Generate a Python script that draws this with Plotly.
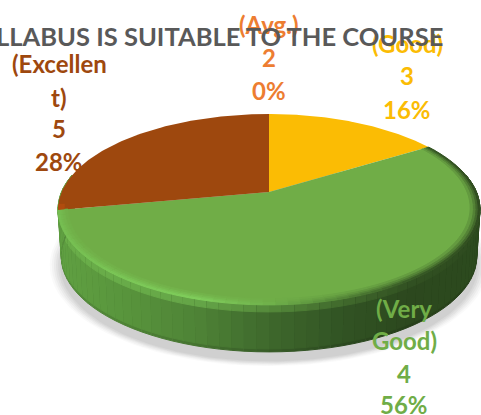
import numpy as np
import plotly.graph_objects as go

# ---- data ----
categories = ["(Avg.)", "(Good)", "(Very Good)", "(Excellent)"]
ratings = [2, 3, 4, 5]
shares = [0, 16, 56, 28]
slice_colors = ["#ED7D31", "#FBBC04", "#70AD47", "#9E480E"]
title_text = "SYLLABUS IS SUITABLE TO THE COURSE"
label_lines = [
    ["(Avg.)", "2", "0%"],
    ["(Good)", "3", "16%"],
    ["(Very", "Good)", "4", "56%"],
    ["(Excellen", "t)", "5", "28%"],
]

# ---- layout constants for the tilted disc ----
W, H = 481, 415
CX, CY = 269, 192
A, C = -57.1, 0.183
D = 207.4
DEPTH = 47
BASE = (112, 173, 71)


def project(theta, r=1.0, drop=0.0, shrink=1.0):
    """theta clockwise from 12 o'clock, radians, on a disc seen in perspective."""
    u, v = r * np.sin(theta), r * np.cos(theta)
    w = 1 + C * v
    return CX + shrink * D * u / w, (A * v + CY) / w + drop


def lerp(c1, c2, f):
    f = float(np.clip(f, 0, 1))
    return tuple(a + (b - a) * f for a, b in zip(c1, c2))


def ramp(stops, f):
    f = float(np.clip(f, 0, 1)) * (len(stops) - 1)
    i = min(int(f), len(stops) - 2)
    return lerp(stops[i], stops[i + 1], f - i)


def css(c):
    return "rgb(%d,%d,%d)" % tuple(round(v) for v in c)


fig = go.Figure()


def poly(xs, ys, color, seam=False):
    fig.add_trace(go.Scatter(
        x=list(xs), y=list(ys), mode="lines", fill="toself", fillcolor=color,
        line=dict(color=color, width=1 if seam else 0),
        hoverinfo="skip", showlegend=False))


# soft shadow under the disc
full = np.linspace(0, 2 * np.pi, 181)
mid_y = CY + 18 + DEPTH + 9
for grow, alpha in [(1.055, .04), (1.045, .05), (1.035, .06), (1.025, .07), (1.015, .08), (1.005, .09)]:
    sx, sy = project(full, r=1.0, drop=DEPTH + 9, shrink=grow * 0.985)
    poly(sx, (sy - mid_y) * grow + mid_y, "rgba(120,120,120,%.3f)" % alpha)

# side wall, shaded left to right, with a lit upper band and a darker foot
wall_stops = [(96, 160, 66), (88, 148, 60), (78, 130, 54), (62, 104, 44), (50, 84, 36), (44, 72, 30), (44, 74, 30)]
rim_stops = [(118, 190, 82), (124, 200, 88), (128, 206, 92), (112, 178, 76), (84, 134, 56), (56, 90, 38), (48, 76, 32)]
edges = np.radians(np.linspace(-100.8, 100.8, 71))
for t0, t1 in zip(edges[:-1], edges[1:]):
    seg = np.linspace(t0, t1, 3) + np.pi
    f = (np.mean(project(seg)[0]) - 58) / 423
    wall = ramp(wall_stops, f)
    xa, ya = project(seg, 1.0)
    xb, yb = project(seg[::-1], 1.0, drop=DEPTH, shrink=0.985)
    poly(np.r_[xa, xb], np.r_[ya, yb], css(lerp(wall, (0, 0, 0), 0.12)), seam=True)
    xb, yb = project(seg[::-1], 1.0, drop=DEPTH - 3, shrink=0.986)
    poly(np.r_[xa, xb], np.r_[ya, yb], css(wall), seam=True)
    xa, ya = project(seg, 1.0, drop=0)
    xb, yb = project(seg[::-1], 1.0, drop=7, shrink=0.998)
    poly(np.r_[xa, xb], np.r_[ya, yb], css(lerp(wall, ramp(rim_stops, f), 0.45)), seam=True)

# top faces, built from the shares
angle = 0.0
total = sum(shares)
for share, col in zip(shares, slice_colors):
    sweep = 2 * np.pi * share / total
    if sweep > 0:
        th = np.linspace(angle, angle + sweep, 90)
        rx, ry = project(th)
        poly(np.r_[CX, rx, CX], np.r_[CY, ry, CY], col)
    angle += sweep

# soft bevel along the rim of the big green slice
start = 2 * np.pi * shares[1] / total
stop = start + 2 * np.pi * shares[2] / total
bevel_edges = np.linspace(start, stop, 71)
rings = [(0.955, 0.97, 0.2), (0.97, 0.982, 0.45), (0.982, 0.992, 0.72), (0.992, 1.0, 1.0)]
for t0, t1 in zip(bevel_edges[:-1], bevel_edges[1:]):
    seg = np.linspace(t0, t1, 3)
    f = (float(np.mean(project(seg)[0])) - 58) / 423
    edge = ramp(rim_stops, f)
    for r0, r1, k in rings:
        c = css(lerp(BASE, edge, k))
        xa, ya = project(seg, r1)
        xb, yb = project(seg[::-1], r0)
        poly(np.r_[xa, xb], np.r_[ya, yb], c, seam=True)

# small brown lip at the left edge
lip = np.linspace(stop, stop + np.radians(3.5), 6)
xa, ya = project(lip, 1.0)
xb, yb = project(lip[::-1], 0.97)
poly(np.r_[xa, xb], np.r_[ya, yb], "#B04C0E")

# text: data labels, one annotation per line to hold the loose line spacing
label_x = [269, 407, 404, 59]
label_y = [[24, 57, 90], [43, 75, 109], [308, 340, 373, 404], [63, 97, 128, 161]]
ann = []
for lines, x, ys, col in zip(label_lines, label_x, label_y, slice_colors):
    for txt, y in zip(lines, ys):
        ann.append(dict(x=x, y=y, text="<b>%s</b>" % txt, showarrow=False, xref="x", yref="y",
                        xanchor="center", yanchor="middle",
                        font=dict(family="Lato", size=24, color=col)))
ann.append(dict(x=445, y=36, text="<b>%s</b>" % title_text, showarrow=False, xref="x", yref="y",
                xanchor="right", yanchor="middle",
                font=dict(family="Lato", size=25.5, color="#595959")))

fig.update_layout(
    width=W, height=H, margin=dict(l=0, r=0, t=0, b=0),
    paper_bgcolor="white", plot_bgcolor="white", showlegend=False,
    xaxis=dict(range=[0, W], visible=False, fixedrange=True),
    yaxis=dict(range=[H, 0], visible=False, fixedrange=True),
    annotations=ann,
)
fig.write_html("out.html", config={"displayModeBar": False},
               post_script="document.body.style.margin='0';document.documentElement.style.overflow='hidden';")
